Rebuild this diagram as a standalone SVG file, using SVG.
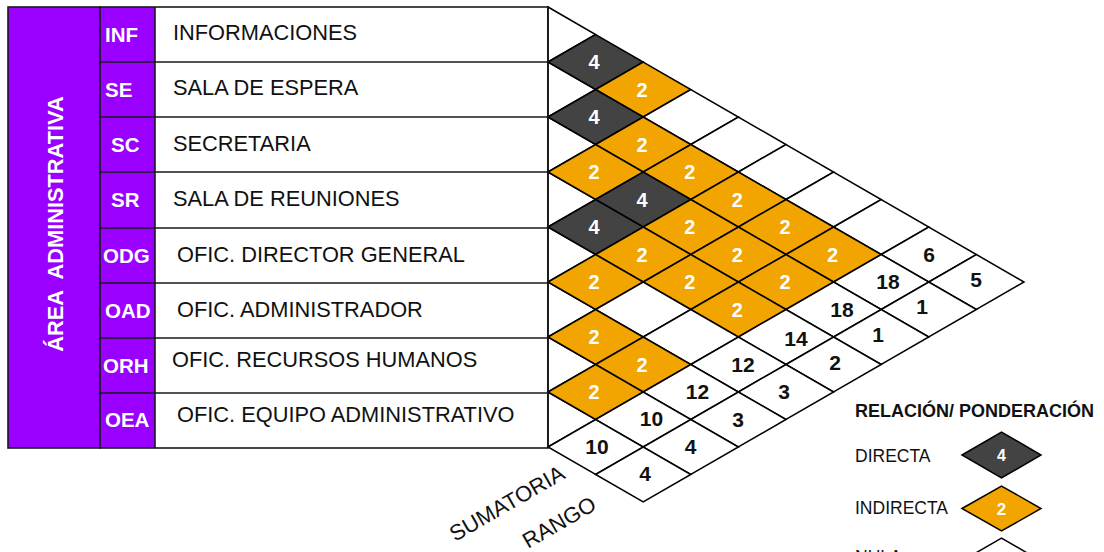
<svg xmlns="http://www.w3.org/2000/svg" width="1104" height="552" viewBox="0 0 1104 552">
<style>
.frame{fill:none;stroke:#1a1a1a;stroke-width:1.6}
.line{stroke:#1a1a1a;stroke-width:1.6}
.code{font-family:"Liberation Sans",Arial,sans-serif;font-weight:bold;font-size:20.5px;fill:#fff}
.name{font-family:"Liberation Sans",Arial,sans-serif;font-size:21.8px;fill:#111}
.dm{stroke:#000;stroke-width:1.5;stroke-linejoin:miter}
.dk{fill:#434343}
.or{fill:#F2A400}
.wh{fill:#fff}
.nw{font-family:"Liberation Sans",Arial,sans-serif;font-weight:bold;font-size:20px;fill:#fff;text-anchor:middle}
.nb{font-family:"Liberation Sans",Arial,sans-serif;font-weight:bold;font-size:21px;fill:#111;text-anchor:middle}
.lg{font-family:"Liberation Sans",Arial,sans-serif;font-size:17.5px;fill:#111}
.lgb{font-family:"Liberation Sans",Arial,sans-serif;font-size:18px;font-weight:bold;fill:#111}
.ax{font-family:"Liberation Sans",Arial,sans-serif;font-size:22px;fill:#111}
</style>
<defs>
<polygon id="d" points="-47.6,0 0,-27.5 47.6,0 0,27.5"/>
<polygon id="h" points="0,0 47.6,27.5 0,55"/>
</defs>
<rect x="0" y="0" width="1104" height="552" fill="#fff"/>

<g id="area">
<rect x="8" y="7" width="92" height="441" fill="#9900FF" stroke="#1a1a1a" stroke-width="1.6"/>
<text transform="translate(63,224) rotate(-90)" text-anchor="middle" xml:space="preserve" font-family="Liberation Sans, Arial, sans-serif" font-weight="bold" font-size="21.8" fill="#fff">ÁREA  ADMINISTRATIVA</text>
</g>

<g id="table">
<rect x="100" y="7" width="55" height="441" fill="#9900FF"/>
<rect x="155" y="7" width="393" height="441" fill="#fff"/>
<rect x="100" y="7" width="448" height="441" class="frame"/>
<line x1="155" y1="7" x2="155" y2="448" class="line"/>
<line x1="100" y1="62" x2="548" y2="62" class="line"/>
<line x1="100" y1="117" x2="548" y2="117" class="line"/>
<line x1="100" y1="172" x2="548" y2="172" class="line"/>
<line x1="100" y1="228" x2="548" y2="228" class="line"/>
<line x1="100" y1="283" x2="548" y2="283" class="line"/>
<line x1="100" y1="338" x2="548" y2="338" class="line"/>
<line x1="100" y1="393" x2="548" y2="393" class="line"/>
</g>

<g id="row-inf"><text class="code" x="105" y="41.5">INF</text><text class="name" x="173" y="40">INFORMACIONES</text></g>
<g id="row-se"><text class="code" x="105" y="96.5">SE</text><text class="name" x="173" y="95">SALA DE ESPERA</text></g>
<g id="row-sc"><text class="code" x="111" y="151.5">SC</text><text class="name" x="173" y="151">SECRETARIA</text></g>
<g id="row-sr"><text class="code" x="111" y="207">SR</text><text class="name" x="173" y="206">SALA DE REUNIONES</text></g>
<g id="row-odg"><text class="code" x="103" y="262.5">ODG</text><text class="name" x="177" y="262">OFIC. DIRECTOR GENERAL</text></g>
<g id="row-oad"><text class="code" x="105" y="317.5">OAD</text><text class="name" x="177" y="317">OFIC. ADMINISTRADOR</text></g>
<g id="row-orh"><text class="code" x="103" y="372.5">ORH</text><text class="name" x="172" y="367">OFIC. RECURSOS HUMANOS</text></g>
<g id="row-oea"><text class="code" x="105" y="426.5">OEA</text><text class="name" x="177" y="422">OFIC. EQUIPO ADMINISTRATIVO</text></g>

<g id="matrix">
<use href="#h" x="548" y="7" class="dm wh"/>
<use href="#h" x="548" y="62" class="dm wh"/>
<use href="#h" x="548" y="117" class="dm wh"/>
<use href="#h" x="548" y="172" class="dm wh"/>
<use href="#h" x="548" y="227" class="dm wh"/>
<use href="#h" x="548" y="282" class="dm wh"/>
<use href="#h" x="548" y="337" class="dm wh"/>
<use href="#h" x="548" y="392" class="dm wh"/>
<use href="#d" x="595.6" y="62" class="dm dk"/>
<use href="#d" x="643.2" y="89.5" class="dm or"/>
<use href="#d" x="690.8" y="117" class="dm wh"/>
<use href="#d" x="738.4" y="144.5" class="dm wh"/>
<use href="#d" x="786" y="172" class="dm wh"/>
<use href="#d" x="833.6" y="199.5" class="dm wh"/>
<use href="#d" x="881.2" y="227" class="dm wh"/>
<use href="#d" x="928.8" y="254.5" class="dm wh"/>
<use href="#d" x="976.4" y="282" class="dm wh"/>
<use href="#d" x="595.6" y="117" class="dm dk"/>
<use href="#d" x="643.2" y="144.5" class="dm or"/>
<use href="#d" x="690.8" y="172" class="dm or"/>
<use href="#d" x="738.4" y="199.5" class="dm or"/>
<use href="#d" x="786" y="227" class="dm or"/>
<use href="#d" x="833.6" y="254.5" class="dm or"/>
<use href="#d" x="881.2" y="282" class="dm wh"/>
<use href="#d" x="928.8" y="309.5" class="dm wh"/>
<use href="#d" x="595.6" y="172" class="dm or"/>
<use href="#d" x="643.2" y="199.5" class="dm dk"/>
<use href="#d" x="690.8" y="227" class="dm or"/>
<use href="#d" x="738.4" y="254.5" class="dm or"/>
<use href="#d" x="786" y="282" class="dm or"/>
<use href="#d" x="833.6" y="309.5" class="dm wh"/>
<use href="#d" x="881.2" y="337" class="dm wh"/>
<use href="#d" x="595.6" y="227" class="dm dk"/>
<use href="#d" x="643.2" y="254.5" class="dm or"/>
<use href="#d" x="690.8" y="282" class="dm or"/>
<use href="#d" x="738.4" y="309.5" class="dm or"/>
<use href="#d" x="786" y="337" class="dm wh"/>
<use href="#d" x="833.6" y="364.5" class="dm wh"/>
<use href="#d" x="595.6" y="282" class="dm or"/>
<use href="#d" x="643.2" y="309.5" class="dm wh"/>
<use href="#d" x="690.8" y="337" class="dm wh"/>
<use href="#d" x="738.4" y="364.5" class="dm wh"/>
<use href="#d" x="786" y="392" class="dm wh"/>
<use href="#d" x="595.6" y="337" class="dm or"/>
<use href="#d" x="643.2" y="364.5" class="dm or"/>
<use href="#d" x="690.8" y="392" class="dm wh"/>
<use href="#d" x="738.4" y="419.5" class="dm wh"/>
<use href="#d" x="595.6" y="392" class="dm or"/>
<use href="#d" x="643.2" y="419.5" class="dm wh"/>
<use href="#d" x="690.8" y="447" class="dm wh"/>
<use href="#d" x="595.6" y="447" class="dm wh"/>
<use href="#d" x="643.2" y="474.5" class="dm wh"/>
<line x1="548" y1="7" x2="548" y2="448" class="line"/>
</g>

<g id="values">
<text class="nw" x="594" y="69">4</text>
<text class="nw" x="642" y="96.5">2</text>
<text class="nw" x="594" y="124">4</text>
<text class="nw" x="642" y="151.5">2</text>
<text class="nw" x="689.8" y="179">2</text>
<text class="nw" x="737.4" y="206.5">2</text>
<text class="nw" x="785" y="234">2</text>
<text class="nw" x="832.6" y="261.5">2</text>
<text class="nw" x="594" y="179">2</text>
<text class="nw" x="642" y="206.5">4</text>
<text class="nw" x="689.8" y="234">2</text>
<text class="nw" x="737.4" y="261.5">2</text>
<text class="nw" x="785" y="289">2</text>
<text class="nw" x="594" y="234">4</text>
<text class="nw" x="642" y="261.5">2</text>
<text class="nw" x="689.8" y="289">2</text>
<text class="nw" x="737.4" y="316.5">2</text>
<text class="nw" x="594" y="289">2</text>
<text class="nw" x="594" y="344">2</text>
<text class="nw" x="642" y="371.5">2</text>
<text class="nw" x="594" y="399">2</text>
</g>

<g id="sumatoria">
<text class="nb" x="929" y="262">6</text>
<text class="nb" x="888" y="289">18</text>
<text class="nb" x="842" y="317">18</text>
<text class="nb" x="796" y="346">14</text>
<text class="nb" x="743" y="372">12</text>
<text class="nb" x="697.5" y="399">12</text>
<text class="nb" x="651.5" y="426">10</text>
<text class="nb" x="597" y="454">10</text>
</g>

<g id="rango">
<text class="nb" x="976" y="287">5</text>
<text class="nb" x="922" y="314">1</text>
<text class="nb" x="878" y="342">1</text>
<text class="nb" x="835" y="370">2</text>
<text class="nb" x="784" y="399">3</text>
<text class="nb" x="738" y="427">3</text>
<text class="nb" x="690.7" y="454">4</text>
<text class="nb" x="645" y="481">4</text>
</g>

<g id="axis-labels">
<text class="ax" transform="translate(455,542) rotate(-30)">SUMATORIA</text>
<text class="ax" transform="translate(528,549) rotate(-30)">RANGO</text>
</g>

<g id="legend">
<text class="lgb" x="855" y="416.5">RELACIÓN/ PONDERACIÓN</text>
<text class="lg" x="855" y="462">DIRECTA</text>
<polygon points="962,455 1001.5,432 1041,455 1001.5,478" class="dm dk"/>
<text x="1001.5" y="461" text-anchor="middle" font-family="Liberation Sans, Arial, sans-serif" font-weight="bold" font-size="16" fill="#fff">4</text>
<text class="lg" x="855" y="513.5">INDIRECTA</text>
<polygon points="962,508.5 1001.5,486 1041,508.5 1001.5,531" class="dm or"/>
<text x="1001.5" y="515" text-anchor="middle" font-family="Liberation Sans, Arial, sans-serif" font-weight="bold" font-size="17" fill="#fff">2</text>
<text class="lg" x="855" y="563">NULA</text>
<polygon points="962,561 1001.5,538 1041,561 1001.5,584" class="dm wh"/>
</g>
</svg>
